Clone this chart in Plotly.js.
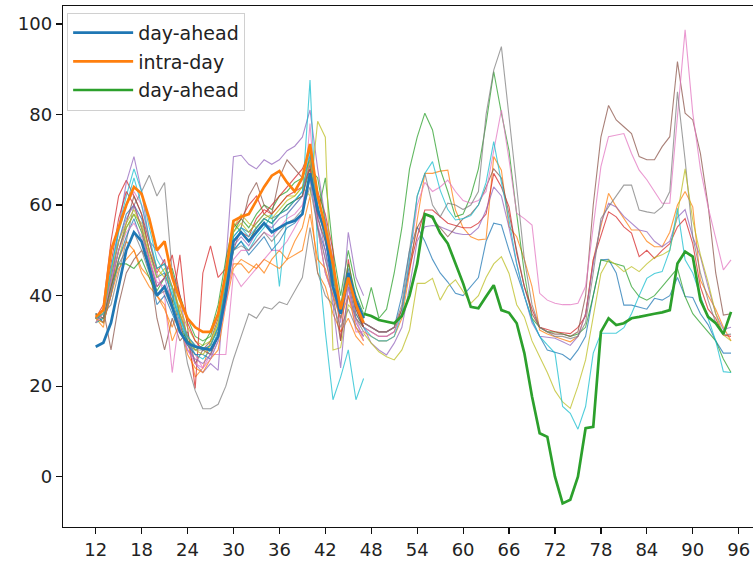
<!DOCTYPE html>
<html>
<head>
<meta charset="utf-8">
<script src="https://cdn.plot.ly/plotly-3.0.1.min.js"></script>
<style>html,body{margin:0;padding:0;background:#fff;}</style>
</head>
<body>
<div id="chart" style="width:753px;height:563px;"></div>
<script>
// ---------- data ----------
const xLeft = [12,13,14,15,16,17,18,19,20,21,22,23,24,25,26,27,28,29,30,31,32,33,34,35,36,37,38,39,40,41,42,43,44,45,46,47];
const xRight = [47,48,49,50,51,52,53,54,55,56,57,58,59,60,61,62,63,64,65,66,67,68,69,70,71,72,73,74,75,76,77,78,79,80,81,82,83,84,85,86,87,88,89,90,91,92,93,94,95];
const xTicks = [12,18,24,30,36,42,48,54,60,66,72,78,84,90,96];
const yTicks = [0,20,40,60,80,100];

const legendNames = ["day-ahead", "intra-day", "day-ahead"];

// thick highlighted series
const dayAheadLeft = [28.7,29.6,34,42,50,54,52,46,40,42,37.5,32,29.5,28.7,28.3,28,31,40,52,54,52,54,56,54,55,56,56.5,58,67,59,54,42,36,45,39,35];
const intraDayLeft = [35.3,36.8,50,55,60,64,62.5,57,50,52,44,39,35,33,32,32,36,45,56.5,57.4,58,61,64,66.5,67.5,65,63,66,73.5,62,55,47,37,44,38,34];
const dayAheadRight = [36,35.5,34.6,34.2,33.9,35.5,40,47,58,57.4,53.8,51.5,47.1,42.7,37.5,37.2,39.8,42.3,36.8,36.2,33.9,27.3,17.7,9.6,8.8,0,-5.9,-5.1,0,10.7,11,32,35,33.5,33.9,35,35.3,35.7,36,36.3,36.8,47.1,49.7,48.6,39,35.3,33.9,31.5,36.4];

// thin series, left block (x 12..47)
const leftBlue1   = [35,36,44,52,58,60,57,50,44,45,40,34,30,29,28,29,33,42,53,55,54,56,58,57,58,60,61,63,71,60,52,44,37,46,38,34];
const leftOrange1 = [35,33,42,48,52,50,45,42,40,37,33,38,30,22,24,30,32,40,47,47,45,47,45,48,50,48,52,55,62,45,42,36,32,35,31,29];
const leftGreen1  = [34,35,43,50,55,58,54,47,41,44,46,40,35,31,30,31,36,45,54,57,55,58,60,59,62,63,65,66,70,58,66,50,40,50,42,37];
const leftRed1    = [35,38,52,62,65.5,62,58,50,45,48,38,49,33,19.5,45,51,44,46,55,57,60,62,58,60,62,64,66,68,72,63,58,50,30,48,38,33];
const leftPurple1 = [36,34,40,55,65,70.7,63,52,50,47,45,40,30,25,23,25,23.5,47,70.7,71,69,68,70,69,70,72,73,75,81,68,57,48,34,54,44,40];
const leftBrown1  = [34,37,28,38,45,48,50,47,35,28,35,30,32,25,28,30,35,45,50,55,62,65,60,58,66,70,68,66,73,55,45,40,30,40,35,33];
const leftPink1   = [35,36,45,55,60,63,60,52,45,40,23,36,30,27,24,27,27,27,45,42,44,46,48,50,50,52,55,58,78,55,45,40,35,42,32,32];
const leftGray1   = [35,36,38,45,52,60,63,66.6,62,65,45,35,25,19,15,15,16,20,26,31,36,35,37.5,37,38.6,38,41,44,55,45,40,38,33,37,33,31];
const leftOlive1  = [35,34,42,48,55,58,56,50,46,44,42,37,33,30,29,30,34,44,55,58,56,55,57,58,60,62,62,64,62,78.5,75,28,28.5,38,36,33];
const leftCyan1   = [34,35,45,55,62,68,63,55,48,45,40,35,30,27,26,28,32,42,50,52,50,53,55,58,42,58,60,62,87.6,50,32,17,22,28,17,21.7];
const leftBlue2   = [36,34,40,48,53,57,52,46,38,40,36,32,29,27,27,26,30,40,50,52,49,51,53,50,52,55,56,58,66,55,50,42,36,44,36,33];
const leftOrange2 = [35,34,40,46,48,50,46,44,40,38,30,34,27,24,23,26,28,38,46,48,47,46,48,47,46,48,49,50,58,48,46,40,35,40,33,30];
const leftGreen2  = [36,35,42,47,47,46,48,44,40,42,39,33,30,28,29,32,38,48,56,54,52,55,57,56,58,60,61,62,68,66,56,45,38,47,40,36];
const leftRed2    = [35,37,47,57,63,60,55,48,42,44,49,40,34,30,28,27,31,41,52,54,53,57,59,58,60,62,63,64,68,58,55,46,36,45,37,33];
const leftPurple2 = [35,36,44,52,57,60,55,48,42,44,38,33,28,26,25,27,31,40,51,53,51,54,56,55,57,58,60,62,70,58,50,38,24,42,34,31];
const leftBrown2  = [36,35,42,50,56,62,58,52,46,47,42,36,31,29,28,29,33,42,52,54,52,55,57,56,58,59,61,62,69,57,52,44,36,44,37,33];
const leftPink2   = [34,36,43,50,54,56,53,48,43,42,38,33,28,25,24,26,30,38,48,50,50,52,54,53,55,57,58,60,66,56,48,42,36,43,35,30];
const leftGray2   = [35,35,41,47,50,54,50,45,40,41,37,32,29,28,28,27,31,40,50,51,50,52,54,52,54,56,57,59,64,55,48,41,35,43,35,32];
const leftOlive2  = [35,36,45,52,56,59,55,49,44,46,42,36,31,28,27,29,34,43,54,56,54,56,58,57,59,61,62,64,70,59,53,44,37,45,38,34];
const leftCyan2   = [35,36,46,54,60,66,60,53,46,47,41,35,31,29,28,29,33,43,53,55,53,55,57,56,58,59,61,63,72,60,53,45,37,45,38,35];

// thin series, right block (x 47..95)
const rightBlue   = [34,33,32,32,33,40,50,55.2,52,48,45,43,40.5,40,41.9,44,52,56,55.6,50,45,40,34.8,31,28,27.5,27,25.8,28,31,40,47.9,48,45,37.9,37.9,37.5,37,39.4,39,40,44,39.8,39.6,36,33.6,30,27.3,27.3];
const rightOrange = [32,31,30,30,31,35,45,56.7,67,67,67.5,67.7,58.9,55,53,52.3,52.5,70.7,67.7,55.2,53,48,42,32.4,31.5,30.9,30.3,29.8,31,36,47.9,55,62.6,59.6,57,54.5,54.5,52,50.8,50.8,54,60,63,59.6,43.4,40,37,33,30];
const rightGreen  = [35,41.8,35,37,45,55,68,75,80.3,76.6,68,63,57.4,58,62,68,78,89.5,80.3,72,58,45,35,33,32,32,31.5,31,31.5,33,40,47.9,47.5,47,46.5,42,39.8,39,40,42,44,46,39.8,36,34,32,30,26,23];
const rightRed    = [34,33,32,32,33,37,46,53,58.9,58.9,57.4,56,55.5,55,55,56,58,67,64,59.6,49.3,42,37,33,32.5,32,31.8,31.6,33,35.5,47.9,53,58.5,57.4,55.2,53.8,48.6,50,48.2,50,51.5,55.2,57,51.5,42,37,35,31.3,31];
const rightPurple = [33,29.5,28,26.9,29.5,33,42,52,55.2,55.5,55.2,54.5,53.8,53.5,53.5,55,58.9,64,62,55,47,40,34,31,30.8,30.6,29.8,29,31,36,47,56,60.4,59.6,57.5,56,54.5,54.1,52,50.8,52,57.3,59,53,48.6,42,36,32.5,33];
const rightBrown  = [33,32,31,31,32,37,47,55,58,57,55,53,55,57,58,60,64,68,66,58,50,42,36,33,32,31.5,31.5,31,32,40,60,75,82,78.8,77.3,75.8,70.7,70,70,72.9,75.1,91.7,80.3,78.8,71.4,60,45,35.7,36];
const rightPink   = [33,32,31,31,32,36,48,60,65,63,64,65.5,63,61,60.4,61,63,72.3,81,70,58.2,57,55.6,40.5,39,38.3,38,38,38.3,42,55.2,68.5,75.1,75.5,75.8,71.4,67.7,65.6,63,60.4,60.4,78.8,98.7,80.3,68,59.6,52.3,45.7,47.9];
const rightGray   = [34,33,32,32,33,38,50,62,67,60,57.4,60.4,60,59,60,63,80,89.8,95,80,64,48,38,33,32,31,31,30.5,31,34,45,57,59.6,62,64.4,64.4,58.9,58.5,58.2,59.6,63,85,70,53,45,39,34,31.3,31.5];
const rightOlive  = [31.7,29.5,27.6,26.5,25.8,28,32.4,42.7,42.7,43.8,39,42,43.5,41,38.3,40,44,47,48.6,44.9,38,35.3,30,26.5,23,19,16.5,15.1,20,25.8,35,44.9,47.9,46.8,45.3,46.4,45.3,47,48.4,49,50,58,68,56.7,49,43,36,31.3,30];
const rightCyan   = [33,31,30,30,31,36,48,62,67,69.6,63.3,59,56.7,57,57.7,60,65,74,65,56.7,47,40,34.5,31,29.1,27.3,15.5,14,10.5,15.5,27.3,31.7,31.7,31.7,32.9,36,40,43.8,44.9,45.3,50,59.3,47.9,45,40,35,30,23.2,23];

// ---------- styling ----------
const tab10 = ['#1f77b4','#ff7f0e','#2ca02c','#d62728','#9467bd','#8c564b','#e377c2','#7f7f7f','#bcbd22','#17becf'];
const leftThin = [leftBlue1,leftOrange1,leftGreen1,leftRed1,leftPurple1,leftBrown1,leftPink1,leftGray1,leftOlive1,leftCyan1,
                  leftBlue2,leftOrange2,leftGreen2,leftRed2,leftPurple2,leftBrown2,leftPink2,leftGray2,leftOlive2,leftCyan2];
const rightThin = [rightBlue,rightOrange,rightGreen,rightRed,rightPurple,rightBrown,rightPink,rightGray,rightOlive,rightCyan];

const traces = [];
leftThin.forEach((ys, i) => traces.push({
  x: xLeft, y: ys, mode: 'lines', showlegend: false, hoverinfo: 'skip',
  line: {color: tab10[i % 10], width: 1.1}, opacity: 0.75
}));
rightThin.forEach((ys, i) => traces.push({
  x: xRight, y: ys, mode: 'lines', showlegend: false, hoverinfo: 'skip',
  line: {color: tab10[i % 10], width: 1.1}, opacity: 0.75
}));
traces.push({x: xLeft, y: dayAheadLeft, mode: 'lines', name: legendNames[0], legendgroup: 'a',
  line: {color: tab10[0], width: 2.7}});
traces.push({x: xLeft, y: intraDayLeft, mode: 'lines', name: legendNames[1], legendgroup: 'b',
  line: {color: tab10[1], width: 2.7}});
traces.push({x: xRight, y: dayAheadRight, mode: 'lines', name: legendNames[2], legendgroup: 'c',
  line: {color: tab10[2], width: 2.7}});

const font = {family: 'DejaVu Sans', size: 18, color: '#222'};
const layout = {
  width: 753, height: 563,
  margin: {l: 63, r: 0, t: 6, b: 36},
  paper_bgcolor: '#fff', plot_bgcolor: '#fff',
  font: font,
  showlegend: true,
  legend: {
    x: 0.006, y: 0.987, xanchor: 'left', yanchor: 'top',
    bgcolor: 'rgba(255,255,255,0.85)', bordercolor: '#d0d0d0', borderwidth: 1,
    font: {family: 'DejaVu Sans', size: 19, color: '#222'},
    traceorder: 'grouped', tracegroupgap: 1, itemwidth: 60
  },
  xaxis: {
    range: [7.73, 97.87], tickmode: 'array', tickvals: xTicks, ticktext: xTicks.map(String),
    showgrid: false, zeroline: false, showline: true, mirror: true,
    linecolor: '#111', linewidth: 1.3, ticks: 'outside', ticklen: 6, tickwidth: 1.2, tickcolor: '#111',
    tickfont: font
  },
  yaxis: {
    range: [-11.11, 103.97], tickmode: 'array', tickvals: yTicks, ticktext: yTicks.map(String),
    showgrid: false, zeroline: false, showline: true, mirror: false,
    linecolor: '#111', linewidth: 1.3, ticks: 'outside', ticklen: 6, tickwidth: 1.2, tickcolor: '#111',
    tickfont: font
  }
};
Plotly.newPlot('chart', traces, layout, {displayModeBar: false, staticPlot: true});
</script>
</body>
</html>
